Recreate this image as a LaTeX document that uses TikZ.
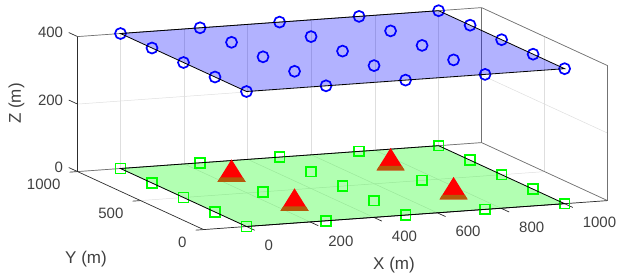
\documentclass[tikz,border=0pt]{standalone}
\usepackage{fontspec}
\setmainfont{Liberation Sans}
\definecolor{axisgray}{RGB}{45,45,45}
\definecolor{boxgray}{RGB}{115,115,115}
\definecolor{gridgray}{RGB}{222,222,222}
\definecolor{labelgray}{RGB}{64,64,64}
\definecolor{meshgreen}{RGB}{0,255,0}
\definecolor{meshblue}{RGB}{0,0,255}
\definecolor{conebase}{RGB}{180,90,10}
\begin{document}
\begin{tikzpicture}[
    x={(0.3181bp,0.02283bp)}, y={(-0.126bp,0.058bp)}, z={(0bp,0.3375bp)},
    gridline/.style={draw=gridgray, line width=0.5bp},
    boxline/.style={draw=boxgray, line width=0.7bp},
    axisline/.style={draw=axisgray, line width=0.7bp},
    ticklabel/.style={text=labelgray, inner sep=0pt, font=\fontsize{15bp}{17bp}\selectfont},
    axislabel/.style={text=labelgray, inner sep=0pt, font=\fontsize{17bp}{19bp}\selectfont},
    sensornode/.style={shape=rectangle, draw=meshgreen, line width=1.7bp, minimum size=9.8bp, inner sep=0pt},
    airnode/.style={shape=circle, draw=meshblue, line width=1.7bp, minimum size=11bp, inner sep=0pt},
    plane/.style={draw=black, line width=0.8bp}
  ]
  \useasboundingbox (0bp,0bp) rectangle (621bp,280bp);
  \begin{scope}[shift={(246.5bp,53.5bp)}]
    \foreach \x in {0,200,...,1000} {
      \draw[gridline] (\x,0,0) -- (\x,1000,0);
      \draw[gridline] (\x,1000,0) -- (\x,1000,400);
    }
    \foreach \y in {0,500,1000} {
      \draw[gridline] (-135,\y,0) -- (1135,\y,0);
      \draw[gridline] (1135,\y,0) -- (1135,\y,400);
    }
    \foreach \z in {0,200,400} {
      \draw[gridline] (-135,1000,\z) -- (1135,1000,\z) -- (1135,0,\z);
    }
    \draw[boxline] (-135,1000,400) -- (1135,1000,400) -- (1135,0,400) -- (1135,0,0);
    \draw[boxline] (-135,1000,0) -- (1135,1000,0) -- (1135,0,0);
    \draw[boxline] (1135,1000,0) -- (1135,1000,400);
    \fill[meshgreen, fill opacity=0.3] (0,0,0) -- (1000,0,0) -- (1000,1000,0) -- (0,1000,0) -- cycle;
    \fill[meshblue, fill opacity=0.3] (0,0,400) -- (1000,0,400) -- (1000,1000,400) -- (0,1000,400) -- cycle;
    \draw[axisline] (1135,0,0) -- (-135,0,0) -- (-135,1000,0) -- (-135,1000,400);
    \foreach \x in {0,200,...,1000} {
      \draw[axisline] (\x,0,0) -- (\x,-65,0);
      \path (\x,0,0) ++(18bp,-19bp) node[ticklabel, anchor=west] (xt\x) {\x};
    }
    \foreach \y in {0,500,1000} {
      \draw[axisline] (-135,\y,0) -- (-160,\y,0);
      \path (-135,\y,0) ++(-17bp,-12.5bp) node[ticklabel, anchor=east] (yt\y) {\y};
    }
    \foreach \z in {0,200,400} {
      \draw[axisline] (-135,1000,\z) -- (-135,1070,\z);
      \path (-135,1070,\z) ++(-5.5bp,0bp) node[ticklabel, anchor=east] (zt\z) {\z};
    }
    \foreach \i in {0,250,...,1000} {
      \foreach \j in {0,250,...,1000} {
        \node[airnode] (air-\i-\j) at (\i,\j,400) {};
      }
    }
    \foreach \i/\j in {0/0,0/250,0/500,0/750,0/1000,250/0,250/500,250/1000,500/0,500/250,500/500,500/750,500/1000,750/0,750/500,750/1000,1000/0,1000/250,1000/500,1000/750,1000/1000} {
      \node[sensornode] (gnd-\i-\j) at (\i,\j,0) {};
    }
    \draw[plane] (0,0,0) -- (1000,0,0) -- (1000,1000,0) -- (0,1000,0) -- cycle;
    \draw[plane] (0,0,400) -- (1000,0,400) -- (1000,1000,400) -- (0,1000,400) -- cycle;
    \foreach \i/\j in {250/250,250/750,750/250,750/750} {
      \coordinate (bs-\i-\j) at (\i,\j,0);
      \fill[red] (bs-\i-\j) ++(0bp,18bp) -- ++(-14bp,-22.5bp) -- ++(28bp,0bp) -- cycle;
      \fill[conebase] (bs-\i-\j) ++(-11.2bp,0bp) -- ++(22.4bp,0bp) -- ++(2.8bp,-4.5bp) -- ++(-28bp,0bp) -- cycle;
    }
  \end{scope}
  \node[axislabel] (xlab) at (394bp,14.5bp) {X (m)};
  \node[axislabel] (ylab) at (86bp,20.5bp) {Y (m)};
  \node[axislabel, rotate=90] (zlab) at (16.5bp,176.5bp) {Z (m)};
\end{tikzpicture}
\end{document}
